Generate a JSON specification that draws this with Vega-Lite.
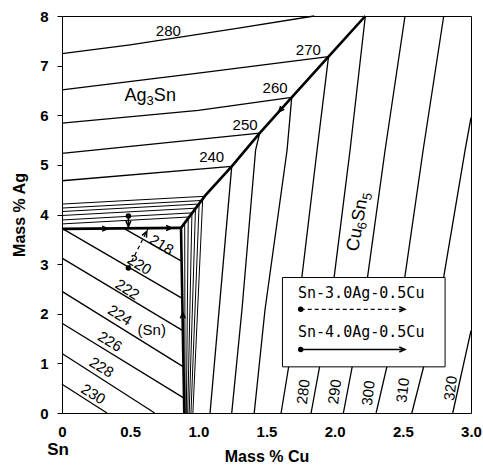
{
  "$schema": "https://vega.github.io/schema/vega-lite/v6.json",
  "width": 409,
  "height": 397,
  "autosize": "none",
  "padding": {"left": 62, "top": 16, "right": 12, "bottom": 55},
  "config": {
    "view": {"stroke": "black", "strokeWidth": 1},
    "font": "Liberation Sans",
    "text": {"font": "Liberation Sans", "fontSize": 15, "color": "black"}
  },
  "datasets": {
    "boundaries": [
      {"id": "b1", "o": 0, "x": 0, "y": 3.71}, {"id": "b1", "o": 1, "x": 0.873, "y": 3.73},
      {"id": "b2", "o": 0, "x": 0.873, "y": 3.73}, {"id": "b2", "o": 1, "x": 0.897, "y": 0},
      {"id": "b3", "o": 0, "x": 0.873, "y": 3.73}, {"id": "b3", "o": 1, "x": 1.05, "y": 4.38},
      {"id": "b3", "o": 2, "x": 1.245, "y": 4.97}, {"id": "b3", "o": 3, "x": 1.45, "y": 5.64},
      {"id": "b3", "o": 4, "x": 1.685, "y": 6.36}, {"id": "b3", "o": 5, "x": 1.955, "y": 7.18},
      {"id": "b3", "o": 6, "x": 2.225, "y": 8.0}
    ],
    "isotherms": [
      {"id": "a280", "o": 0, "x": 0, "y": 7.24}, {"id": "a280", "o": 1, "x": 0.5, "y": 7.42}, {"id": "a280", "o": 2, "x": 1.306, "y": 7.76}, {"id": "a280", "o": 3, "x": 1.85, "y": 8.0},
      {"id": "a270", "o": 0, "x": 0, "y": 6.51}, {"id": "a270", "o": 1, "x": 1.0, "y": 6.85}, {"id": "a270", "o": 2, "x": 1.955, "y": 7.18},
      {"id": "a260", "o": 0, "x": 0, "y": 5.84}, {"id": "a260", "o": 1, "x": 1.0, "y": 6.1}, {"id": "a260", "o": 2, "x": 1.685, "y": 6.36},
      {"id": "a250", "o": 0, "x": 0, "y": 5.23}, {"id": "a250", "o": 1, "x": 1.45, "y": 5.64},
      {"id": "a240", "o": 0, "x": 0, "y": 4.68}, {"id": "a240", "o": 1, "x": 1.245, "y": 4.97},
      {"id": "s218", "o": 0, "x": 0.46, "y": 3.71}, {"id": "s218", "o": 1, "x": 0.877, "y": 3.06},
      {"id": "s220", "o": 0, "x": 0, "y": 3.72}, {"id": "s220", "o": 1, "x": 0.882, "y": 2.31},
      {"id": "s222", "o": 0, "x": 0, "y": 3.12}, {"id": "s222", "o": 1, "x": 0.886, "y": 1.66},
      {"id": "s224", "o": 0, "x": 0, "y": 2.45}, {"id": "s224", "o": 1, "x": 0.891, "y": 0.93},
      {"id": "s226", "o": 0, "x": 0, "y": 1.81}, {"id": "s226", "o": 1, "x": 0.895, "y": 0.30},
      {"id": "s228", "o": 0, "x": 0, "y": 1.2}, {"id": "s228", "o": 1, "x": 0.68, "y": 0},
      {"id": "s230", "o": 0, "x": 0, "y": 0.58}, {"id": "s230", "o": 1, "x": 0.33, "y": 0},
      {"id": "c240", "o": 0, "x": 1.245, "y": 4.97}, {"id": "c240", "o": 1, "x": 1.086, "y": 0},
      {"id": "c250", "o": 0, "x": 1.45, "y": 5.64}, {"id": "c250", "o": 1, "x": 1.42, "y": 5.3}, {"id": "c250", "o": 2, "x": 1.32, "y": 2.08}, {"id": "c250", "o": 3, "x": 1.245, "y": 0},
      {"id": "c260", "o": 0, "x": 1.685, "y": 6.36}, {"id": "c260", "o": 1, "x": 1.651, "y": 5.3}, {"id": "c260", "o": 2, "x": 1.489, "y": 2.08}, {"id": "c260", "o": 3, "x": 1.41, "y": 0},
      {"id": "c270", "o": 0, "x": 1.955, "y": 7.18}, {"id": "c270", "o": 1, "x": 1.871, "y": 5.3}, {"id": "c270", "o": 2, "x": 1.731, "y": 2.08}, {"id": "c270", "o": 3, "x": 1.607, "y": 0},
      {"id": "c280", "o": 0, "x": 2.225, "y": 8.0}, {"id": "c280", "o": 1, "x": 2.113, "y": 5.3}, {"id": "c280", "o": 2, "x": 1.966, "y": 2.08}, {"id": "c280", "o": 3, "x": 1.827, "y": 0},
      {"id": "c290", "o": 0, "x": 2.516, "y": 8.0}, {"id": "c290", "o": 1, "x": 2.37, "y": 5.3}, {"id": "c290", "o": 2, "x": 2.208, "y": 2.08}, {"id": "c290", "o": 3, "x": 2.064, "y": 0},
      {"id": "c300", "o": 0, "x": 2.8, "y": 8.0}, {"id": "c300", "o": 1, "x": 2.649, "y": 5.3}, {"id": "c300", "o": 2, "x": 2.48, "y": 2.08}, {"id": "c300", "o": 3, "x": 2.304, "y": 0},
      {"id": "c310", "o": 0, "x": 3.0, "y": 5.95}, {"id": "c310", "o": 1, "x": 2.957, "y": 5.3}, {"id": "c310", "o": 2, "x": 2.759, "y": 2.08}, {"id": "c310", "o": 3, "x": 2.566, "y": 0},
      {"id": "c320", "o": 0, "x": 3.0, "y": 1.66}, {"id": "c320", "o": 1, "x": 2.866, "y": 0}
    ],
    "dense": [
      {"id": "d1", "o": 0, "x": 0, "y": 4.21}, {"id": "d1", "o": 1, "x": 1.041, "y": 4.366},
      {"id": "d2", "o": 0, "x": 0, "y": 4.13}, {"id": "d2", "o": 1, "x": 1.02, "y": 4.282},
      {"id": "d3", "o": 0, "x": 0, "y": 4.06}, {"id": "d3", "o": 1, "x": 1.001, "y": 4.21},
      {"id": "d4", "o": 0, "x": 0, "y": 3.98}, {"id": "d4", "o": 1, "x": 0.98, "y": 4.127},
      {"id": "d5", "o": 0, "x": 0, "y": 3.89}, {"id": "d5", "o": 1, "x": 0.956, "y": 4.033},
      {"id": "d6", "o": 0, "x": 0, "y": 3.81}, {"id": "d6", "o": 1, "x": 0.934, "y": 3.95},
      {"id": "e1", "o": 0, "x": 0.9, "y": 3.83}, {"id": "e1", "o": 1, "x": 0.903, "y": 0},
      {"id": "e2", "o": 0, "x": 0.926, "y": 3.925}, {"id": "e2", "o": 1, "x": 0.912, "y": 0},
      {"id": "e3", "o": 0, "x": 0.953, "y": 4.02}, {"id": "e3", "o": 1, "x": 0.922, "y": 0},
      {"id": "e4", "o": 0, "x": 0.979, "y": 4.12}, {"id": "e4", "o": 1, "x": 0.933, "y": 0},
      {"id": "e5", "o": 0, "x": 1.006, "y": 4.22}, {"id": "e5", "o": 1, "x": 0.946, "y": 0},
      {"id": "e6", "o": 0, "x": 1.032, "y": 4.315}, {"id": "e6", "o": 1, "x": 0.96, "y": 0}
    ],
    "pathsDashed": [
      {"id": "p30", "o": 0, "x": 0.487, "y": 2.92}, {"id": "p30", "o": 1, "x": 0.63, "y": 3.71},
      {"id": "l30", "o": 0, "x": 1.751, "y": 2.09}, {"id": "l30", "o": 1, "x": 2.5, "y": 2.09}
    ],
    "pathsSolid": [
      {"id": "p40", "o": 0, "x": 0.487, "y": 3.97}, {"id": "p40", "o": 1, "x": 0.487, "y": 3.72},
      {"id": "l40", "o": 0, "x": 1.751, "y": 1.28}, {"id": "l40", "o": 1, "x": 2.5, "y": 1.28}
    ],
    "dots": [
      {"x": 0.487, "y": 2.92}, {"x": 0.487, "y": 3.97}, {"x": 1.751, "y": 2.09}, {"x": 1.751, "y": 1.28}
    ],
    "arrows": [
      {"dir": "right", "x": 0.32, "y": 3.715}, {"dir": "right", "x": 0.79, "y": 3.728},
      {"dir": "right", "x": 2.5, "y": 2.09}, {"dir": "right", "x": 2.5, "y": 1.28},
      {"dir": "up", "x": 0.886, "y": 1.98},
      {"dir": "down", "x": 0.487, "y": 3.8},
      {"dir": "downleft", "x": 1.6, "y": 6.1},
      {"dir": "upright", "x": 0.615, "y": 3.62}
    ],
    "legendBox": [{"x": 1.617, "x2": 2.81, "y": 0.93, "y2": 2.73}],
    "labels": [
      {"g": "ag", "t": "280", "x": 0.78, "y": 7.69},
      {"g": "ag", "t": "270", "x": 1.807, "y": 7.32},
      {"g": "ag", "t": "260", "x": 1.563, "y": 6.55},
      {"g": "ag", "t": "250", "x": 1.343, "y": 5.81},
      {"g": "ag", "t": "240", "x": 1.098, "y": 5.15},
      {"g": "sn", "t": "218", "x": 0.73, "y": 3.39},
      {"g": "sn", "t": "220", "x": 0.568, "y": 2.99},
      {"g": "sn", "t": "222", "x": 0.48, "y": 2.49},
      {"g": "sn", "t": "224", "x": 0.425, "y": 1.97},
      {"g": "sn", "t": "226", "x": 0.352, "y": 1.44},
      {"g": "sn", "t": "228", "x": 0.29, "y": 0.92},
      {"g": "sn", "t": "230", "x": 0.23, "y": 0.38},
      {"g": "plain", "t": "(Sn)", "x": 0.658, "y": 1.67},
      {"g": "cu", "t": "280", "x": 1.77, "y": 0.43},
      {"g": "cu", "t": "290", "x": 2.0, "y": 0.43},
      {"g": "cu", "t": "300", "x": 2.247, "y": 0.4},
      {"g": "cu", "t": "310", "x": 2.5, "y": 0.46},
      {"g": "cu", "t": "320", "x": 2.85, "y": 0.5}
    ],
    "phaseAg": [{"phase": "Ag3Sn", "x": 0.646, "y": 6.38}],
    "phaseCu": [{"phase": "Cu6Sn5", "x": 2.172, "y": 3.85}],
    "legendText": [
      {"t": "Sn-3.0Ag-0.5Cu", "x": 1.731, "y": 2.41},
      {"t": "Sn-4.0Ag-0.5Cu", "x": 1.731, "y": 1.64}
    ],
    "corner": [{"t": "Sn", "x": 0, "y": -0.75}],
    "grid05": [{"x": 0.5}]
  },
  "encoding": {
    "x": {
      "field": "x", "type": "quantitative",
      "scale": {"domain": [0, 3], "nice": false, "zero": false},
      "axis": {
        "title": "Mass % Cu", "values": [0, 0.5, 1, 1.5, 2, 2.5, 3],
        "labelExpr": "datum.value == 0 ? '0' : format(datum.value, '.1f')",
        "ticks": false, "tickSize": 0, "domain": false, "grid": false,
        "labelFlush": false, "labelPadding": 11, "labelFontSize": 15, "labelFontWeight": "bold",
        "labelFont": "Liberation Sans", "labelColor": "black",
        "titleFont": "Liberation Sans", "titleFontSize": 16, "titleFontWeight": "bold", "titleColor": "black",
        "titlePadding": 9
      }
    },
    "y": {
      "field": "y", "type": "quantitative",
      "scale": {"domain": [0, 8], "nice": false, "zero": false},
      "axis": {
        "title": "Mass % Ag", "values": [0, 1, 2, 3, 4, 5, 6, 7, 8],
        "tickSize": 5, "tickColor": "black", "domain": false, "grid": false,
        "labelFlush": false, "labelPadding": 9, "labelFontSize": 15, "labelFontWeight": "bold",
        "labelFont": "Liberation Sans", "labelColor": "black",
        "titleFont": "Liberation Sans", "titleFontSize": 16, "titleFontWeight": "bold", "titleColor": "black",
        "titlePadding": 12
      }
    }
  },
  "layer": [
    {
      "data": {"name": "grid05"},
      "mark": {"type": "rule", "color": "#9a9a9a", "strokeWidth": 1, "strokeDash": [1, 2]},
      "encoding": {"x": {"field": "x", "type": "quantitative"}}
    },
    {
      "data": {"name": "dense"},
      "mark": {"type": "line", "color": "black", "strokeWidth": 1},
      "encoding": {"detail": {"field": "id"}, "order": {"field": "o"}}
    },
    {
      "data": {"name": "isotherms"},
      "mark": {"type": "line", "color": "black", "strokeWidth": 1.3},
      "encoding": {"detail": {"field": "id"}, "order": {"field": "o"}}
    },
    {
      "data": {"name": "boundaries"},
      "mark": {"type": "line", "color": "black", "strokeWidth": 2.6},
      "encoding": {"detail": {"field": "id"}, "order": {"field": "o"}}
    },
    {
      "data": {"name": "legendBox"},
      "mark": {"type": "rect", "fill": "white", "stroke": "black", "strokeWidth": 1},
      "encoding": {"x2": {"field": "x2"}, "y2": {"field": "y2"}}
    },
    {
      "data": {"name": "pathsDashed"},
      "mark": {"type": "line", "color": "black", "strokeWidth": 1.2, "strokeDash": [4, 3]},
      "encoding": {"detail": {"field": "id"}, "order": {"field": "o"}}
    },
    {
      "data": {"name": "pathsSolid"},
      "mark": {"type": "line", "color": "black", "strokeWidth": 1.5},
      "encoding": {"detail": {"field": "id"}, "order": {"field": "o"}}
    },
    {
      "data": {"name": "dots"},
      "mark": {"type": "point", "filled": true, "color": "black", "size": 30, "opacity": 1}
    },
    {
      "data": {"name": "arrows"},
      "transform": [{"filter": "datum.dir == 'right'"}],
      "mark": {"type": "point", "shape": "M-1,-0.7L0.6,0L-1,0.7", "filled": false, "stroke": "black", "strokeWidth": 1.5, "size": 50, "opacity": 1, "angle": 0}
    },
    {
      "data": {"name": "arrows"},
      "transform": [{"filter": "datum.dir == 'up'"}],
      "mark": {"type": "point", "shape": "M-1,-0.7L0.6,0L-1,0.7", "filled": false, "stroke": "black", "strokeWidth": 1.5, "size": 50, "opacity": 1, "angle": 270}
    },
    {
      "data": {"name": "arrows"},
      "transform": [{"filter": "datum.dir == 'down'"}],
      "mark": {"type": "point", "shape": "M-1,-0.7L0.6,0L-1,0.7", "filled": false, "stroke": "black", "strokeWidth": 1.5, "size": 50, "opacity": 1, "angle": 90}
    },
    {
      "data": {"name": "arrows"},
      "transform": [{"filter": "datum.dir == 'downleft'"}],
      "mark": {"type": "point", "shape": "M-1,-0.7L0.6,0L-1,0.7", "filled": false, "stroke": "black", "strokeWidth": 1.5, "size": 50, "opacity": 1, "angle": 132}
    },
    {
      "data": {"name": "arrows"},
      "transform": [{"filter": "datum.dir == 'upright'"}],
      "mark": {"type": "point", "shape": "M-1,-0.7L0.6,0L-1,0.7", "filled": false, "stroke": "black", "strokeWidth": 1.5, "size": 50, "opacity": 1, "angle": -63}
    },
    {
      "data": {"name": "labels"},
      "transform": [{"filter": "datum.g == 'ag'"}],
      "mark": {"type": "text", "fontSize": 15, "align": "center", "baseline": "middle", "angle": 0},
      "encoding": {"text": {"field": "t"}}
    },
    {
      "data": {"name": "labels"},
      "transform": [{"filter": "datum.g == 'sn'"}],
      "mark": {"type": "text", "fontSize": 15, "align": "center", "baseline": "middle", "angle": 32},
      "encoding": {"text": {"field": "t"}}
    },
    {
      "data": {"name": "labels"},
      "transform": [{"filter": "datum.g == 'plain'"}],
      "mark": {"type": "text", "fontSize": 15, "align": "center", "baseline": "middle", "angle": 0},
      "encoding": {"text": {"field": "t"}}
    },
    {
      "data": {"name": "labels"},
      "transform": [{"filter": "datum.g == 'cu'"}],
      "mark": {"type": "text", "fontSize": 15, "align": "center", "baseline": "middle", "angle": -83},
      "encoding": {"text": {"field": "t"}}
    },
    {
      "data": {"name": "phaseAg"},
      "mark": {"type": "text", "text": "Ag", "fontSize": 18, "align": "right", "baseline": "middle", "dx": -3.5}
    },
    {
      "data": {"name": "phaseAg"},
      "mark": {"type": "text", "text": "3", "fontSize": 13, "align": "left", "baseline": "middle", "dx": -3.5, "dy": 5}
    },
    {
      "data": {"name": "phaseAg"},
      "mark": {"type": "text", "text": "Sn", "fontSize": 18, "align": "left", "baseline": "middle", "dx": 3.8}
    },
    {
      "data": {"name": "phaseCu"},
      "mark": {"type": "text", "text": "Cu", "fontSize": 18, "align": "right", "baseline": "middle", "dx": -6.5, "angle": -80}
    },
    {
      "data": {"name": "phaseCu"},
      "mark": {"type": "text", "text": "6", "fontSize": 13, "align": "left", "baseline": "middle", "dx": -6.5, "dy": 5, "angle": -80}
    },
    {
      "data": {"name": "phaseCu"},
      "mark": {"type": "text", "text": "Sn", "fontSize": 18, "align": "left", "baseline": "middle", "dx": 0.8, "angle": -80}
    },
    {
      "data": {"name": "phaseCu"},
      "mark": {"type": "text", "text": "5", "fontSize": 13, "align": "left", "baseline": "middle", "dx": 23, "dy": 5, "angle": -80}
    },
    {
      "data": {"name": "legendText"},
      "mark": {"type": "text", "font": "DejaVu Sans Mono", "fontSize": 15, "align": "left", "baseline": "middle"},
      "encoding": {"text": {"field": "t"}}
    },
    {
      "data": {"name": "corner"},
      "mark": {"type": "text", "fontSize": 17, "fontWeight": "bold", "align": "center", "baseline": "middle", "dx": -4},
      "encoding": {"text": {"field": "t"}}
    }
  ]
}
